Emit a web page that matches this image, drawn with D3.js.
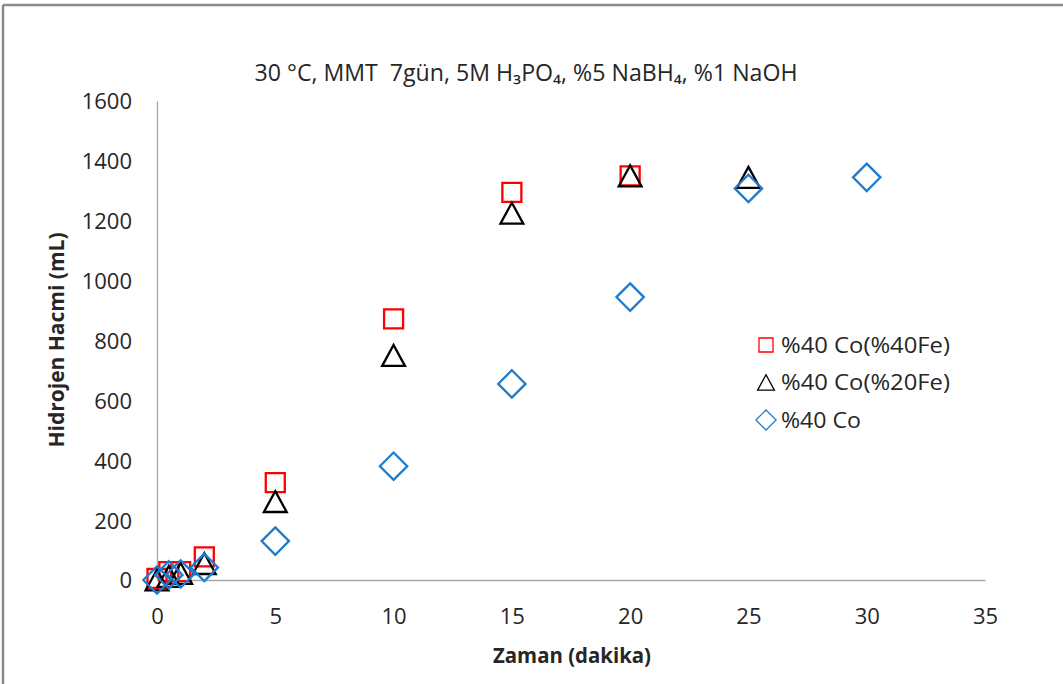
<!DOCTYPE html>
<html>
<head>
<meta charset="utf-8">
<script src="https://cdn.jsdelivr.net/npm/d3@7"></script>
<style>
  html, body { margin: 0; padding: 0; background: #fff; }
  svg { display: block; font-family: "Open Sans", "Noto Sans", sans-serif; }
</style>
</head>
<body>
<svg id="chart" width="1063" height="684"></svg>
<script>
// time points (minutes) and hydrogen volume (mL) per series
const timeCoFe40 = [0, 0.5, 1, 2, 5, 10, 15, 20];
const volCoFe40 = [5, 28, 28, 77, 325, 872, 1295, 1350];

const timeCoFe20 = [0, 0.5, 1, 2, 5, 10, 15, 20, 25];
const volCoFe20 = [0, 12, 22, 55, 262, 750, 1225, 1350, 1345];

const timeCo = [0, 0.5, 1, 2, 5, 10, 15, 20, 25, 30];
const volCo = [0, 17, 20, 42, 130, 380, 655, 945, 1308, 1345];

const xTicks = [0, 5, 10, 15, 20, 25, 30, 35];
const yTicks = [0, 200, 400, 600, 800, 1000, 1200, 1400, 1600];

const series = [
  { name: "%40 Co(%40Fe)", shape: "square", color: "#ff0000", xs: timeCoFe40, ys: volCoFe40 },
  { name: "%40 Co(%20Fe)", shape: "triangle", color: "#000000", xs: timeCoFe20, ys: volCoFe20 },
  { name: "%40 Co", shape: "diamond", color: "#1f7bcc", xs: timeCo, ys: volCo },
];

const svg = d3.select("#chart");

// frame lines of the pasted figure
svg.append("line").attr("x1", 3).attr("x2", 1063).attr("y1", 5).attr("y2", 5)
  .attr("stroke", "#8a8a8a").attr("stroke-width", 2.5);
svg.append("line").attr("x1", 3).attr("x2", 3).attr("y1", 5).attr("y2", 684)
  .attr("stroke", "#8a8a8a").attr("stroke-width", 2.5);

const x = d3.scaleLinear().domain([0, 35]).range([157, 985]);
const y = d3.scaleLinear().domain([0, 1600]).range([580, 101]);

// axes
const xAxis = svg.append("g").attr("transform", `translate(0,${y(0)})`)
  .call(d3.axisBottom(x).tickValues(xTicks).tickSize(0).tickPadding(28).tickFormat(d3.format("d")));
const yAxis = svg.append("g").attr("transform", `translate(${x(0)},0)`)
  .call(d3.axisLeft(y).tickValues(yTicks).tickSize(0).tickPadding(25).tickFormat(d3.format("d")));

[xAxis, yAxis].forEach((g) => {
  g.select(".domain").attr("stroke", "#a6a6a6").attr("stroke-width", 1.3);
  g.selectAll("text").attr("font-size", 22).attr("fill", "#262626")
    .attr("font-family", "'Open Sans', sans-serif");
});
xAxis.selectAll("text").attr("dy", "0.71em");
yAxis.selectAll("text").attr("dy", "0.36em");

// title
svg.append("text")
  .attr("x", 526).attr("y", 81)
  .attr("text-anchor", "middle")
  .attr("font-size", 23)
  .attr("fill", "#262626")
  .attr("textLength", 543)
  .attr("lengthAdjust", "spacingAndGlyphs")
  .style("white-space", "pre")
  .text("30 °C, MMT  7gün, 5M H₃PO₄, %5 NaBH₄, %1 NaOH");

// axis titles
svg.append("text")
  .attr("x", 572).attr("y", 663)
  .attr("text-anchor", "middle")
  .attr("font-size", 20.5).attr("font-weight", "bold").attr("fill", "#262626")
  .attr("textLength", 158)
  .attr("lengthAdjust", "spacingAndGlyphs")
  .text("Zaman (dakika)");

svg.append("text")
  .attr("transform", "translate(64,340) rotate(-90)")
  .attr("text-anchor", "middle")
  .attr("font-size", 20.5).attr("font-weight", "bold").attr("fill", "#262626")
  .attr("textLength", 215)
  .attr("lengthAdjust", "spacingAndGlyphs")
  .text("Hidrojen Hacmi (mL)");

function markerPath(shape, s) {
  if (shape === "square") {
    const h = s / 2;
    return `M${-h},${-h}H${h}V${h}H${-h}Z`;
  }
  if (shape === "triangle") {
    const w = s * 0.6, hh = s * 0.55;
    return `M0,${-hh}L${w},${hh}L${-w},${hh}Z`;
  }
  const r = s * 0.72;
  return `M0,${-r}L${r},0L0,${r}L${-r},0Z`;
}

const plot = svg.append("g");
series.forEach((s) => {
  const pts = s.xs.map((t, i) => ({ t, v: s.ys[i] }));
  plot.selectAll(null)
    .data(pts)
    .join("path")
    .attr("transform", (d) => `translate(${x(d.t)},${y(d.v)})`)
    .attr("d", markerPath(s.shape, 19))
    .attr("fill", "none")
    .attr("stroke", s.color)
    .attr("stroke-width", 2.3);
});

// legend
const legendWidths = [169, 169, 80];
const legend = svg.append("g");
series.forEach((s, i) => {
  const ly = 345 + i * 37.5;
  legend.append("path")
    .attr("transform", `translate(766,${ly})`)
    .attr("d", markerPath(s.shape, 14))
    .attr("fill", "none")
    .attr("stroke", s.color)
    .attr("stroke-width", 1.3);
  legend.append("text")
    .attr("x", 781).attr("y", ly)
    .attr("dy", "0.36em")
    .attr("font-size", 21.5).attr("fill", "#262626")
    .attr("textLength", legendWidths[i])
    .attr("lengthAdjust", "spacingAndGlyphs")
    .text(s.name);
});
</script>
</body>
</html>
